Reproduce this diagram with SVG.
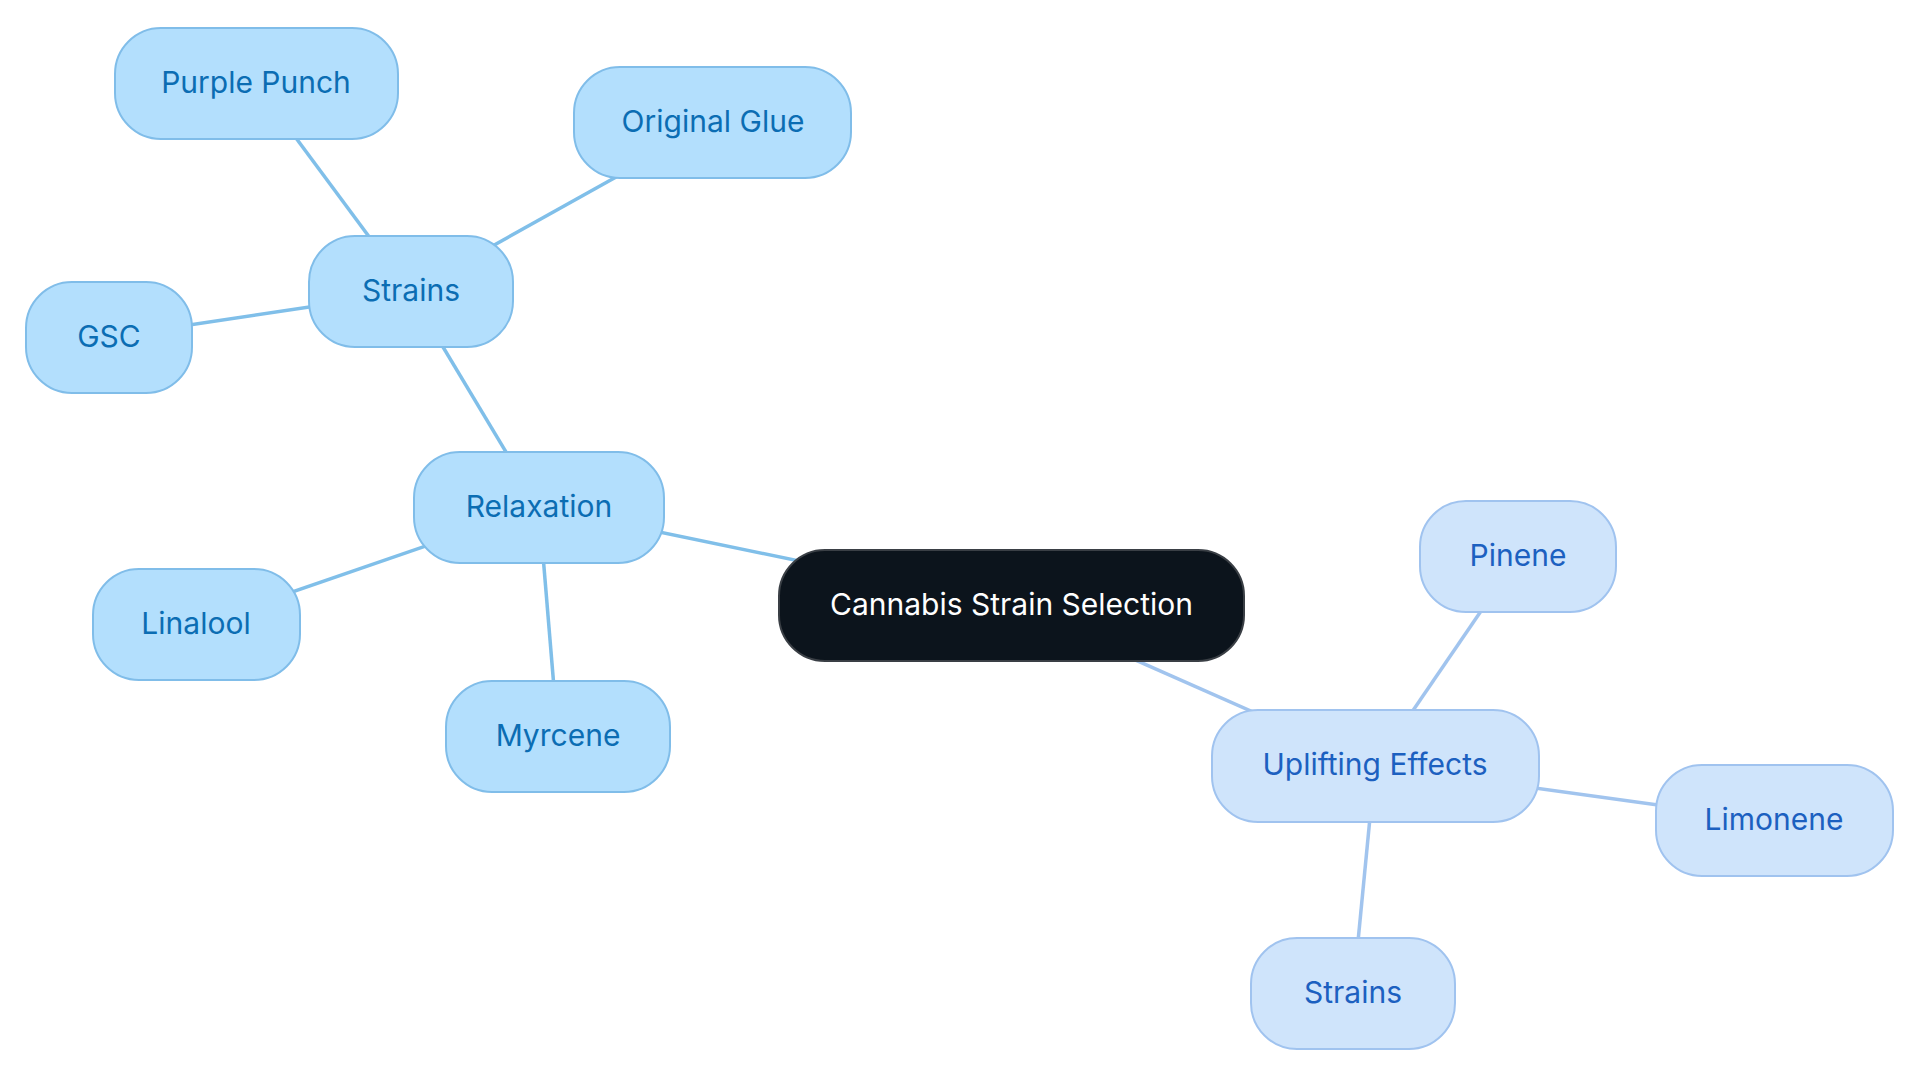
<svg xmlns="http://www.w3.org/2000/svg" width="1920" height="1083" viewBox="0 0 1920 1083">
<style>
.e1{stroke:#80bfe9;stroke-width:3.5;fill:none}
.e2{stroke:#a1c4ee;stroke-width:3.5;fill:none}
.n1 rect{fill:#b3dffd;stroke:#80bde9;stroke-width:2}
.n1 text{fill:#0b6db3}
.n2 rect{fill:#cfe4fb;stroke:#a0c3ef;stroke-width:2}
.n2 text{fill:#1c60c0}
.n0 rect{fill:#0c141c;stroke:#3a3f45;stroke-width:2}
.n0 text{fill:#ffffff}
text{font-family:Inter,"Noto Sans",sans-serif;font-size:30px;text-anchor:middle;dominant-baseline:central}
</style>
<rect width="1920" height="1083" fill="#ffffff"/>
<g id="connectors">
<line class="e1" x1="1011" y1="605" x2="539" y2="507"/>
<line class="e1" x1="539" y1="507" x2="410" y2="292"/>
<line class="e1" x1="539" y1="507" x2="196" y2="625"/>
<line class="e1" x1="539" y1="507" x2="558" y2="736"/>
<line class="e1" x1="410" y1="292" x2="256" y2="84"/>
<line class="e1" x1="410" y1="292" x2="713" y2="123"/>
<line class="e1" x1="410" y1="292" x2="109" y2="337"/>
<line class="e2" x1="1011" y1="605" x2="1375" y2="766"/>
<line class="e2" x1="1375" y1="766" x2="1518" y2="557"/>
<line class="e2" x1="1375" y1="766" x2="1774" y2="821"/>
<line class="e2" x1="1375" y1="766" x2="1353" y2="993"/>
</g>
<g id="node-central" class="n0"><rect x="779" y="550" width="465" height="111" rx="46"/><text x="1011.5" y="604">Cannabis Strain Selection</text></g>
<g id="node-relaxation" class="n1"><rect x="414" y="452" width="250" height="111" rx="46"/><text x="539" y="506">Relaxation</text></g>
<g id="node-strains-left" class="n1"><rect x="309" y="236" width="204" height="111" rx="46"/><text x="411" y="290">Strains</text></g>
<g id="node-purple-punch" class="n1"><rect x="115" y="28" width="283" height="111" rx="46"/><text x="256" y="82">Purple Punch</text></g>
<g id="node-original-glue" class="n1"><rect x="574" y="67" width="277" height="111" rx="46"/><text x="713" y="121">Original Glue</text></g>
<g id="node-gsc" class="n1"><rect x="26" y="282" width="166" height="111" rx="46"/><text x="109" y="336">GSC</text></g>
<g id="node-linalool" class="n1"><rect x="93" y="569" width="207" height="111" rx="46"/><text x="196" y="623">Linalool</text></g>
<g id="node-myrcene" class="n1"><rect x="446" y="681" width="224" height="111" rx="46"/><text x="558" y="735">Myrcene</text></g>
<g id="node-uplifting" class="n2"><rect x="1212" y="710" width="327" height="112" rx="46"/><text x="1375" y="764">Uplifting Effects</text></g>
<g id="node-pinene" class="n2"><rect x="1420" y="501" width="196" height="111" rx="46"/><text x="1518" y="555">Pinene</text></g>
<g id="node-limonene" class="n2"><rect x="1656" y="765" width="237" height="111" rx="46"/><text x="1774" y="819">Limonene</text></g>
<g id="node-strains-right" class="n2"><rect x="1251" y="938" width="204" height="111" rx="46"/><text x="1353" y="992">Strains</text></g>
</svg>
